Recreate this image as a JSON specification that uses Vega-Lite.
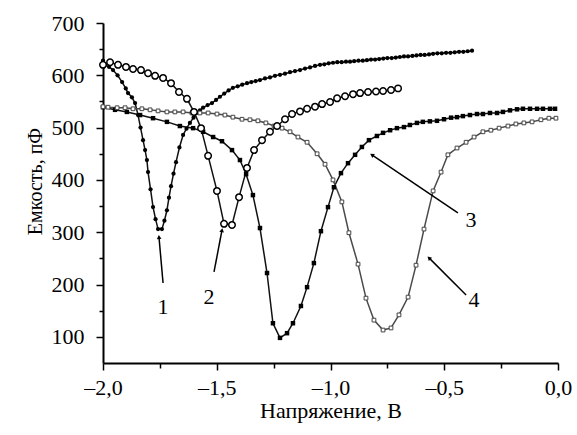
{
  "$schema": "https://vega.github.io/schema/vega-lite/v6.json",
  "width": 455,
  "height": 340,
  "autosize": {"type": "none"},
  "padding": {"left": 103, "top": 23, "right": 19, "bottom": 72},
  "background": "white",
  "config": {"view": {"stroke": null}, "font": "Liberation Serif"},
  "datasets": {
    "curves": [
      {"s":"1","x":-2.000,"y":628},{"s":"1","x":-1.991,"y":620},{"s":"1","x":-1.973,"y":616},{"s":"1","x":-1.956,"y":610},{"s":"1","x":-1.936,"y":600},{"s":"1","x":-1.916,"y":587},{"s":"1","x":-1.900,"y":575},{"s":"1","x":-1.890,"y":566},{"s":"1","x":-1.873,"y":558},{"s":"1","x":-1.859,"y":547},{"s":"1","x":-1.846,"y":524},{"s":"1","x":-1.835,"y":500},{"s":"1","x":-1.824,"y":476},{"s":"1","x":-1.815,"y":457},{"s":"1","x":-1.807,"y":438},{"s":"1","x":-1.802,"y":415},{"s":"1","x":-1.791,"y":382},{"s":"1","x":-1.780,"y":348},{"s":"1","x":-1.769,"y":325},{"s":"1","x":-1.758,"y":306},{"s":"1","x":-1.741,"y":306},{"s":"1","x":-1.730,"y":322},{"s":"1","x":-1.719,"y":342},{"s":"1","x":-1.710,"y":366},{"s":"1","x":-1.701,"y":388},{"s":"1","x":-1.690,"y":412},{"s":"1","x":-1.679,"y":434},{"s":"1","x":-1.664,"y":462},{"s":"1","x":-1.648,"y":486},{"s":"1","x":-1.633,"y":498},{"s":"1","x":-1.618,"y":509},{"s":"1","x":-1.602,"y":519},{"s":"1","x":-1.587,"y":528},{"s":"1","x":-1.574,"y":533},{"s":"1","x":-1.560,"y":538},{"s":"1","x":-1.540,"y":543},{"s":"1","x":-1.521,"y":547},{"s":"1","x":-1.503,"y":553},{"s":"1","x":-1.486,"y":559},{"s":"1","x":-1.467,"y":565},{"s":"1","x":-1.448,"y":571},{"s":"1","x":-1.429,"y":576},{"s":"1","x":-1.408,"y":579},{"s":"1","x":-1.388,"y":582},{"s":"1","x":-1.367,"y":585},{"s":"1","x":-1.348,"y":587},{"s":"1","x":-1.329,"y":589},{"s":"1","x":-1.310,"y":591},{"s":"1","x":-1.288,"y":594},{"s":"1","x":-1.266,"y":596},{"s":"1","x":-1.244,"y":599},{"s":"1","x":-1.222,"y":601},{"s":"1","x":-1.200,"y":603},{"s":"1","x":-1.178,"y":606},{"s":"1","x":-1.156,"y":608},{"s":"1","x":-1.134,"y":610},{"s":"1","x":-1.112,"y":613},{"s":"1","x":-1.090,"y":615},{"s":"1","x":-1.068,"y":618},{"s":"1","x":-1.046,"y":620},{"s":"1","x":-1.027,"y":621},{"s":"1","x":-1.008,"y":623},{"s":"1","x":-0.989,"y":624},{"s":"1","x":-0.970,"y":625},{"s":"1","x":-0.951,"y":625},{"s":"1","x":-0.932,"y":626},{"s":"1","x":-0.914,"y":626},{"s":"1","x":-0.896,"y":627},{"s":"1","x":-0.877,"y":628},{"s":"1","x":-0.858,"y":628},{"s":"1","x":-0.840,"y":629},{"s":"1","x":-0.822,"y":630},{"s":"1","x":-0.804,"y":630},{"s":"1","x":-0.786,"y":631},{"s":"1","x":-0.768,"y":632},{"s":"1","x":-0.750,"y":633},{"s":"1","x":-0.731,"y":633},{"s":"1","x":-0.713,"y":634},{"s":"1","x":-0.695,"y":635},{"s":"1","x":-0.677,"y":636},{"s":"1","x":-0.659,"y":636},{"s":"1","x":-0.640,"y":637},{"s":"1","x":-0.622,"y":638},{"s":"1","x":-0.604,"y":639},{"s":"1","x":-0.586,"y":639},{"s":"1","x":-0.567,"y":640},{"s":"1","x":-0.549,"y":641},{"s":"1","x":-0.530,"y":642},{"s":"1","x":-0.511,"y":642},{"s":"1","x":-0.492,"y":643},{"s":"1","x":-0.473,"y":643},{"s":"1","x":-0.454,"y":644},{"s":"1","x":-0.435,"y":645},{"s":"1","x":-0.416,"y":645},{"s":"1","x":-0.397,"y":646},{"s":"1","x":-0.378,"y":647},
      {"s":"2","x":-2.000,"y":620},{"s":"2","x":-1.969,"y":625},{"s":"2","x":-1.934,"y":620},{"s":"2","x":-1.899,"y":616},{"s":"2","x":-1.868,"y":612},{"s":"2","x":-1.833,"y":610},{"s":"2","x":-1.802,"y":604},{"s":"2","x":-1.771,"y":599},{"s":"2","x":-1.736,"y":595},{"s":"2","x":-1.701,"y":585},{"s":"2","x":-1.666,"y":568},{"s":"2","x":-1.631,"y":555},{"s":"2","x":-1.600,"y":530},{"s":"2","x":-1.569,"y":499},{"s":"2","x":-1.538,"y":446},{"s":"2","x":-1.499,"y":379},{"s":"2","x":-1.468,"y":316},{"s":"2","x":-1.433,"y":314},{"s":"2","x":-1.402,"y":367},{"s":"2","x":-1.367,"y":423},{"s":"2","x":-1.336,"y":457},{"s":"2","x":-1.301,"y":476},{"s":"2","x":-1.266,"y":492},{"s":"2","x":-1.235,"y":503},{"s":"2","x":-1.200,"y":516},{"s":"2","x":-1.169,"y":526},{"s":"2","x":-1.134,"y":531},{"s":"2","x":-1.103,"y":536},{"s":"2","x":-1.068,"y":540},{"s":"2","x":-1.037,"y":545},{"s":"2","x":-1.002,"y":549},{"s":"2","x":-0.971,"y":556},{"s":"2","x":-0.936,"y":560},{"s":"2","x":-0.901,"y":564},{"s":"2","x":-0.870,"y":566},{"s":"2","x":-0.835,"y":568},{"s":"2","x":-0.800,"y":569},{"s":"2","x":-0.769,"y":570},{"s":"2","x":-0.734,"y":572},{"s":"2","x":-0.703,"y":575},
      {"s":"3","x":-2.000,"y":539},{"s":"3","x":-1.947,"y":534},{"s":"3","x":-1.895,"y":530},{"s":"3","x":-1.837,"y":524},{"s":"3","x":-1.780,"y":518},{"s":"3","x":-1.719,"y":511},{"s":"3","x":-1.662,"y":503},{"s":"3","x":-1.604,"y":499},{"s":"3","x":-1.560,"y":492},{"s":"3","x":-1.516,"y":482},{"s":"3","x":-1.477,"y":474},{"s":"3","x":-1.433,"y":457},{"s":"3","x":-1.398,"y":438},{"s":"3","x":-1.371,"y":411},{"s":"3","x":-1.341,"y":371},{"s":"3","x":-1.310,"y":308},{"s":"3","x":-1.279,"y":222},{"s":"3","x":-1.253,"y":126},{"s":"3","x":-1.222,"y":98},{"s":"3","x":-1.191,"y":107},{"s":"3","x":-1.165,"y":126},{"s":"3","x":-1.130,"y":159},{"s":"3","x":-1.103,"y":195},{"s":"3","x":-1.073,"y":241},{"s":"3","x":-1.042,"y":302},{"s":"3","x":-1.011,"y":348},{"s":"3","x":-0.985,"y":386},{"s":"3","x":-0.954,"y":413},{"s":"3","x":-0.923,"y":432},{"s":"3","x":-0.892,"y":448},{"s":"3","x":-0.862,"y":463},{"s":"3","x":-0.831,"y":476},{"s":"3","x":-0.796,"y":484},{"s":"3","x":-0.769,"y":490},{"s":"3","x":-0.738,"y":495},{"s":"3","x":-0.708,"y":499},{"s":"3","x":-0.677,"y":501},{"s":"3","x":-0.651,"y":505},{"s":"3","x":-0.620,"y":509},{"s":"3","x":-0.594,"y":511},{"s":"3","x":-0.563,"y":512},{"s":"3","x":-0.532,"y":513},{"s":"3","x":-0.501,"y":516},{"s":"3","x":-0.470,"y":519},{"s":"3","x":-0.444,"y":520},{"s":"3","x":-0.418,"y":522},{"s":"3","x":-0.387,"y":524},{"s":"3","x":-0.356,"y":526},{"s":"3","x":-0.330,"y":526},{"s":"3","x":-0.299,"y":528},{"s":"3","x":-0.268,"y":528},{"s":"3","x":-0.242,"y":530},{"s":"3","x":-0.211,"y":533},{"s":"3","x":-0.180,"y":535},{"s":"3","x":-0.154,"y":536},{"s":"3","x":-0.123,"y":536},{"s":"3","x":-0.092,"y":536},{"s":"3","x":-0.066,"y":536},{"s":"3","x":-0.035,"y":536},{"s":"3","x":-0.013,"y":536},
      {"s":"4","x":-2.000,"y":540},{"s":"4","x":-1.978,"y":539},{"s":"4","x":-1.938,"y":538},{"s":"4","x":-1.903,"y":538},{"s":"4","x":-1.868,"y":536},{"s":"4","x":-1.829,"y":536},{"s":"4","x":-1.793,"y":534},{"s":"4","x":-1.758,"y":532},{"s":"4","x":-1.719,"y":530},{"s":"4","x":-1.684,"y":530},{"s":"4","x":-1.648,"y":530},{"s":"4","x":-1.609,"y":528},{"s":"4","x":-1.574,"y":528},{"s":"4","x":-1.538,"y":528},{"s":"4","x":-1.499,"y":526},{"s":"4","x":-1.464,"y":524},{"s":"4","x":-1.429,"y":520},{"s":"4","x":-1.389,"y":516},{"s":"4","x":-1.354,"y":515},{"s":"4","x":-1.319,"y":513},{"s":"4","x":-1.284,"y":509},{"s":"4","x":-1.248,"y":503},{"s":"4","x":-1.213,"y":499},{"s":"4","x":-1.178,"y":492},{"s":"4","x":-1.143,"y":482},{"s":"4","x":-1.103,"y":472},{"s":"4","x":-1.059,"y":450},{"s":"4","x":-1.024,"y":430},{"s":"4","x":-0.989,"y":400},{"s":"4","x":-0.950,"y":358},{"s":"4","x":-0.919,"y":299},{"s":"4","x":-0.879,"y":239},{"s":"4","x":-0.844,"y":174},{"s":"4","x":-0.809,"y":132},{"s":"4","x":-0.769,"y":113},{"s":"4","x":-0.734,"y":117},{"s":"4","x":-0.699,"y":142},{"s":"4","x":-0.659,"y":176},{"s":"4","x":-0.624,"y":237},{"s":"4","x":-0.589,"y":306},{"s":"4","x":-0.549,"y":379},{"s":"4","x":-0.514,"y":415},{"s":"4","x":-0.484,"y":448},{"s":"4","x":-0.444,"y":461},{"s":"4","x":-0.404,"y":472},{"s":"4","x":-0.369,"y":482},{"s":"4","x":-0.330,"y":492},{"s":"4","x":-0.295,"y":495},{"s":"4","x":-0.259,"y":499},{"s":"4","x":-0.220,"y":503},{"s":"4","x":-0.185,"y":507},{"s":"4","x":-0.150,"y":509},{"s":"4","x":-0.114,"y":511},{"s":"4","x":-0.075,"y":515},{"s":"4","x":-0.040,"y":518},{"s":"4","x":-0.009,"y":518}
    ],
    "notes": [
      {"t":"1","x":-1.736,"y":157,"x1":-1.754,"y1":291,"x2":-1.736,"y2":203,"a":355},
      {"t":"2","x":-1.534,"y":176,"x1":-1.477,"y1":304,"x2":-1.512,"y2":224,"a":11},
      {"t":"3","x":-0.382,"y":323,"x1":-0.818,"y1":448,"x2":-0.440,"y2":337,"a":304},
      {"t":"4","x":-0.369,"y":170,"x1":-0.567,"y1":251,"x2":-0.404,"y2":180,"a":315}
    ]
  },
  "resolve": {"axis": {"x": "independent", "y": "independent"}},
  "layer": [
    {
      "data": {"name": "curves"},
      "mark": {"type": "line", "strokeWidth": 1.5},
      "encoding": {
        "x": {"field": "x", "type": "quantitative",
          "scale": {"domain": [-2, 0], "nice": false, "zero": false},
          "axis": {"orient": "bottom", "values": [-2, -1.5, -1, -0.5, 0],
            "labelExpr": "replace((datum.value < 0 ? '–' : '') + format(abs(datum.value), '.1f'), '.', ',')",
            "grid": false, "tickSize": 7, "tickWidth": 1.5, "tickColor": "black",
            "domainColor": "black", "domainWidth": 2,
            "labelFont": "Liberation Serif", "labelFontSize": 22, "labelColor": "black", "labelPadding": 7,
            "labelFlush": false,
            "title": "Напряжение, В", "titleFont": "Liberation Serif", "titleFontSize": 22,
            "titleFontWeight": "normal", "titleColor": "black", "titleBaseline": "middle", "titleY": 47}},
        "y": {"field": "y", "type": "quantitative",
          "scale": {"domain": [50, 700], "nice": false, "zero": false},
          "axis": {"orient": "left", "values": [100, 200, 300, 400, 500, 600, 700],
            "grid": false, "tickSize": 7, "tickWidth": 1.5, "tickColor": "black",
            "domainColor": "black", "domainWidth": 2,
            "labelFont": "Liberation Serif", "labelFontSize": 22, "labelColor": "black", "labelPadding": 12,
            "labelFlush": false,
            "title": "Емкость, пФ", "titleFont": "Liberation Serif", "titleFontSize": 20,
            "titleFontWeight": "normal", "titleColor": "black", "titleBaseline": "middle",
            "titleX": -68, "titleY": 158}},
        "detail": {"field": "s", "type": "nominal"},
        "color": {"field": "s", "type": "nominal", "legend": null,
          "scale": {"domain": ["1", "2", "3", "4"], "range": ["#111111", "#111111", "#111111", "#4a4a4a"]}}
      }
    },
    {
      "data": {"name": "curves"},
      "transform": [{"filter": "datum.s == '1'"}],
      "mark": {"type": "point", "shape": "circle", "filled": true, "size": 18, "color": "black", "opacity": 1},
      "encoding": {
        "x": {"field": "x", "type": "quantitative", "axis": null},
        "y": {"field": "y", "type": "quantitative", "axis": null}
      }
    },
    {
      "data": {"name": "curves"},
      "transform": [{"filter": "datum.s == '3'"}],
      "mark": {"type": "point", "shape": "square", "filled": true, "size": 20, "color": "black", "opacity": 1},
      "encoding": {
        "x": {"field": "x", "type": "quantitative", "axis": null},
        "y": {"field": "y", "type": "quantitative", "axis": null}
      }
    },
    {
      "data": {"name": "curves"},
      "transform": [{"filter": "datum.s == '4'"}],
      "mark": {"type": "point", "shape": "square", "fill": "white", "stroke": "#444444", "strokeWidth": 1, "size": 14, "opacity": 1},
      "encoding": {
        "x": {"field": "x", "type": "quantitative", "axis": null},
        "y": {"field": "y", "type": "quantitative", "axis": null}
      }
    },
    {
      "data": {"name": "curves"},
      "transform": [{"filter": "datum.s == '2'"}],
      "mark": {"type": "point", "shape": "circle", "fill": "white", "stroke": "black", "strokeWidth": 1.5, "size": 42, "opacity": 1},
      "encoding": {
        "x": {"field": "x", "type": "quantitative", "axis": null},
        "y": {"field": "y", "type": "quantitative", "axis": null}
      }
    },
    {
      "data": {"name": "notes"},
      "mark": {"type": "rule", "strokeWidth": 1.5, "color": "black"},
      "encoding": {
        "x": {"field": "x1", "type": "quantitative",
          "axis": {"orient": "bottom", "values": [-1.75, -1.25, -0.75, -0.25], "labels": false, "domain": false,
            "grid": false, "tickSize": 5, "tickWidth": 1.5, "tickColor": "black", "title": null}},
        "y": {"field": "y1", "type": "quantitative",
          "axis": {"orient": "left", "values": [150, 250, 350, 450, 550, 650], "labels": false, "domain": false,
            "grid": false, "tickSize": 4, "tickWidth": 1.5, "tickColor": "black", "title": null}},
        "x2": {"field": "x2"},
        "y2": {"field": "y2"}
      }
    },
    {
      "data": {"name": "notes"},
      "mark": {"type": "point", "shape": "triangle-up", "filled": true, "size": 22, "color": "black", "opacity": 1},
      "encoding": {
        "x": {"field": "x1", "type": "quantitative", "axis": null},
        "y": {"field": "y1", "type": "quantitative", "axis": null},
        "angle": {"field": "a", "type": "quantitative", "scale": null}
      }
    },
    {
      "data": {"name": "notes"},
      "mark": {"type": "text", "font": "Liberation Serif", "fontSize": 22, "color": "black", "align": "center", "baseline": "middle"},
      "encoding": {
        "x": {"field": "x", "type": "quantitative", "axis": null},
        "y": {"field": "y", "type": "quantitative", "axis": null},
        "text": {"field": "t"}
      }
    }
  ]
}
